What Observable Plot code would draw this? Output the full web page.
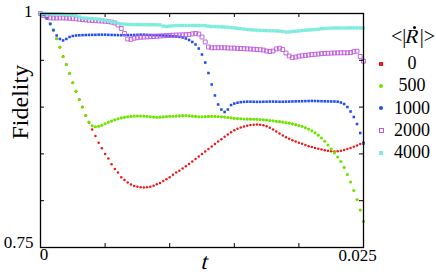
<!DOCTYPE html>
<html>
<head>
<meta charset="utf-8">
<script src="https://cdn.jsdelivr.net/npm/d3@7"></script>
<script src="https://cdn.jsdelivr.net/npm/@observablehq/plot@0.6"></script>
<style>
  html, body { margin: 0; padding: 0; background: #fff; }
  #wrap { position: relative; width: 436px; height: 280px; }
  #legend { position: absolute; left: 0; top: 0; width: 436px; height: 280px; pointer-events: none;
            font-family: "Liberation Serif", serif; color: #000; }
  #legend .lab { position: absolute; width: 50px; text-align: center; font-size: 18px; line-height: 20px; }
  #legend .ttl { position: absolute; width: 64px; text-align: center; font-size: 20px; line-height: 24px; white-space: nowrap; }
  #legend .slant { display: inline-block; transform: skewX(-14deg); }
  #legend .mk { position: absolute; box-sizing: border-box; }
</style>
</head>
<body>
<div id="wrap">
  <div id="chart"></div>
  <div id="legend"></div>
</div>
<script>
// sampling grid (t), 101 samples over [0, 0.025]
const tValues = d3.range(101).map(i => +(i * 0.00025).toFixed(5));

// series keys (<|R-dot|>) and fidelity values
const seriesKeys = ["0", "500", "1000", "2000", "4000"];

const fid0 = [1.000,0.999,0.995,0.989,0.982,0.973,0.964,0.954,0.9455,0.936,0.926,0.917,0.908,0.900,0.891,
  0.8835,0.876,0.869,0.862,0.856,0.850,0.845,0.839,0.834,0.830,0.825,0.822,0.8195,0.8173,0.8157,
  0.8148,0.8143,0.814,0.8144,0.815,0.816,0.8176,0.819,0.821,0.823,0.825,0.8277,0.830,0.832,0.8344,
  0.8367,0.8392,0.8419,0.8446,0.8472,0.8499,0.8526,0.8552,0.8579,0.8606,0.8632,0.8657,0.8683,0.8707,0.8732,
  0.8752,0.8769,0.8782,0.8793,0.8801,0.8808,0.8812,0.8814,0.8812,0.8806,0.8795,0.878,0.8761,0.8739,0.8718,
  0.8697,0.8678,0.8662,0.8647,0.8632,0.862,0.8608,0.8595,0.8583,0.8573,0.8564,0.8556,0.8547,0.854,0.8533,
  0.8528,0.8526,0.8528,0.8533,0.8542,0.8552,0.8563,0.8576,0.859,0.8606,0.8624];

const fid500 = [1.000,0.999,0.995,0.989,0.982,0.973,0.964,0.954,0.9455,0.936,0.926,0.917,0.908,0.900,0.891,
  0.884,0.880,0.879,0.8795,0.8806,0.8822,0.8838,0.8851,0.8864,0.8875,0.8884,0.8891,0.8896,0.890,0.8903,
  0.8905,0.8905,0.8904,0.8901,0.8896,0.8893,0.8891,0.8892,0.8895,0.8899,0.8901,0.8902,0.8904,0.8906,0.8908,
  0.8908,0.8906,0.8903,0.890,0.8897,0.8897,0.8899,0.890,0.8901,0.890,0.8899,0.8896,0.8893,0.8889,0.8885,
  0.888,0.8877,0.8875,0.8873,0.8872,0.8871,0.887,0.8869,0.8867,0.8864,0.8861,0.8857,0.8853,0.8848,0.8844,
  0.884,0.8834,0.8828,0.8821,0.8812,0.8803,0.8793,0.878,0.8765,0.8747,0.8725,0.87,0.867,0.8635,0.8595,
  0.8552,0.851,0.8467,0.8419,0.8355,0.828,0.82,0.8109,0.8013,0.79,0.7778];

const fid1000 = [1.000,0.9984,0.9947,0.9888,0.9824,0.9765,0.9728,0.9712,0.9728,0.9749,0.976,0.9765,0.9767,0.9769,0.977,
  0.9771,0.9772,0.9772,0.9774,0.9774,0.9774,0.9772,0.9771,0.977,0.9769,0.9768,0.9768,0.9769,0.977,0.9771,
  0.9772,0.9774,0.9774,0.9772,0.9771,0.977,0.9769,0.9767,0.9765,0.9763,0.9761,0.9757,0.9754,0.975,0.9744,
  0.9733,0.9717,0.9696,0.9669,0.9626,0.9562,0.9476,0.9364,0.9241,0.9124,0.9028,0.8974,0.8948,0.8974,0.9022,
  0.9038,0.9047,0.9053,0.9056,0.9058,0.9058,0.9057,0.9056,0.9056,0.9057,0.9058,0.9059,0.9059,0.9058,0.9057,
  0.9057,0.9058,0.9059,0.906,0.9061,0.9062,0.9063,0.9064,0.9065,0.9066,0.9065,0.9064,0.9063,0.9062,0.9061,
  0.906,0.906,0.9058,0.9049,0.9033,0.9001,0.8953,0.8894,0.8819,0.8723,0.8611];

const fid2000 = [1.000,0.9979,0.9963,0.9954,0.9952,0.9952,0.9952,0.9952,0.9951,0.9949,0.9947,0.9943,0.9939,0.9935,0.9932,
  0.9928,0.9925,0.9923,0.9921,0.9919,0.9917,0.9913,0.9908,0.9899,0.9877,0.984,0.9786,0.9728,0.9724,0.9736,
  0.9741,0.9746,0.9748,0.975,0.9752,0.9754,0.9757,0.976,0.9762,0.9764,0.9766,0.9768,0.977,0.9771,0.9772,
  0.9774,0.9776,0.9782,0.9787,0.9781,0.9749,0.9696,0.9642,0.9634,0.9634,0.9634,0.9634,0.9634,0.9632,0.9631,
  0.963,0.9628,0.9626,0.9624,0.9622,0.962,0.9618,0.9615,0.9613,0.9609,0.9599,0.9594,0.9599,0.9621,0.9629,
  0.9615,0.9578,0.9546,0.9528,0.9535,0.9544,0.9548,0.9552,0.9557,0.9561,0.9564,0.9567,0.9571,0.9573,0.9575,
  0.9577,0.9578,0.9579,0.958,0.958,0.958,0.9583,0.9592,0.9597,0.9541,0.949];

const fid4000 = [1.000,1.000,0.9998,0.9997,0.9996,0.9995,0.9994,0.9991,0.9989,0.9986,0.9983,0.9979,0.9963,0.9952,0.995,
  0.9948,0.9946,0.9943,0.994,0.9934,0.9926,0.9919,0.9911,0.9904,0.9895,0.9889,0.9886,0.9884,0.9882,0.9882,
  0.9881,0.9881,0.988,0.988,0.988,0.988,0.9879,0.9878,0.9866,0.9861,0.9865,0.9869,0.9871,0.9872,0.9872,
  0.9872,0.9872,0.9872,0.9872,0.9872,0.9872,0.987,0.9865,0.9861,0.9859,0.9858,0.9857,0.9856,0.9854,0.985,
  0.9846,0.9842,0.9838,0.9833,0.9829,0.9826,0.9824,0.9822,0.9819,0.9818,0.9817,0.9816,0.9815,0.9814,0.9812,
  0.9808,0.9801,0.9804,0.9808,0.9811,0.9814,0.9817,0.9821,0.9824,0.9826,0.9829,0.9832,0.9837,0.984,0.9842,
  0.9844,0.9845,0.9845,0.9845,0.9845,0.9845,0.9846,0.9846,0.9846,0.9846,0.9844];

// axis ticks and labels
const xTicks = [0, 0.005, 0.01, 0.015, 0.02, 0.025];
const yTicks = [0.75, 0.8, 0.85, 0.9, 0.95, 1];

const colors = ["#f01818", "#6fe400", "#2250ee", "#bf58e0", "#7eecdc"];

const rows = vals => tValues.map((t, i) => ({t, f: vals[i]})).filter(d => d.f != null);

const W = 436, H = 280, mL = 40, mR = 73, mT = 13, mB = 33;
const plotW = W - mL - mR, plotH = H - mT - mB;
const tick = 4;
const FONT = "Liberation Serif";

const chart = Plot.plot({
  width: W, height: H,
  marginLeft: mL, marginRight: mR, marginTop: mT, marginBottom: mB,
  x: {domain: [0, 0.025], axis: null},
  y: {domain: [0.75, 1], axis: null},
  style: {fontFamily: FONT},
  marks: [
    Plot.dot(rows(fid0), {x: "t", y: "f", r: 1.25, fill: colors[0], symbol: "circle"}),
    Plot.dot(rows(fid500), {x: "t", y: "f", r: 1.6, fill: colors[1], symbol: "circle"}),
    Plot.dot(rows(fid1000), {x: "t", y: "f", r: 1.45, fill: colors[2], symbol: "square"}),
    Plot.dot(rows(fid2000), {x: "t", y: "f", r: 2.2, fill: "none", stroke: colors[3], strokeWidth: 0.9, symbol: "square"}),
    Plot.dot(rows(fid4000), {x: "t", y: "f", r: 1.9, fill: colors[4], symbol: "square"}),
    Plot.frame({stroke: "#000", strokeWidth: 1.3}),
    Plot.tickX(xTicks, {x: d => d, insetTop: plotH - tick, stroke: "#000", strokeWidth: 1}),
    Plot.tickX(xTicks, {x: d => d, insetBottom: plotH - tick, stroke: "#000", strokeWidth: 1}),
    Plot.tickY(yTicks, {y: d => d, insetRight: plotW - tick, stroke: "#000", strokeWidth: 1}),
    Plot.tickY(yTicks, {y: d => d, insetLeft: plotW - tick, stroke: "#000", strokeWidth: 1}),
    Plot.text([xTicks[0]], {x: d => d, frameAnchor: "bottom", dy: 12, dx: 3.5, text: d => "0", fontSize: 17, fontFamily: FONT}),
    Plot.text([xTicks[5]], {x: d => d, frameAnchor: "bottom", dy: 13, dx: -6, text: d => "0.025", fontSize: 17, fontFamily: FONT}),
    Plot.text([yTicks[5]], {y: d => d, frameAnchor: "left", dx: -8, dy: -2, textAnchor: "end", text: d => "1", fontSize: 17, fontFamily: FONT}),
    Plot.text([yTicks[0]], {y: d => d, frameAnchor: "left", dx: -7, dy: -5, textAnchor: "end", text: d => "0.75", fontSize: 17, fontFamily: FONT}),
    Plot.text(["Fidelity"], {frameAnchor: "left", dx: -20, dy: 9, rotate: -90, text: d => d, fontSize: 24, fontFamily: FONT}),
    Plot.text(["t"], {frameAnchor: "bottom", dx: 1.5, dy: 21, text: d => d, fontSize: 23, fontFamily: FONT})
  ]
});

document.getElementById("chart").appendChild(chart);

// slant the axis variable "t" with a skew instead of an italic face
d3.select(chart).selectAll("text").filter(function() { return this.textContent === "t"; })
  .each(function() {
    const tr = this.getAttribute("transform") || "";
    this.setAttribute("transform", (tr + " skewX(-14)").trim());
  });

// legend (HTML overlay to the right of the frame)
const legend = d3.select("#legend");
const ttl = legend.append("div").attr("class", "ttl").style("left", "381px").style("top", "24px");
ttl.append("span").text("<|");
ttl.append("span").attr("class", "slant").text("R");
ttl.append("span").text("|>");
legend.append("div").attr("class", "mk")
  .style("left", "413px").style("top", "26px").style("width", "3px").style("height", "3px")
  .style("border-radius", "50%").style("background", "#000");

seriesKeys.forEach((k, i) => {
  const cy = 63.5 + i * 22.3;
  const mk = legend.append("div").attr("class", "mk")
    .style("left", "379px").style("top", `${cy - 2}px`).style("width", "4px").style("height", "4px");
  if (i === 3) mk.style("border", `1px solid ${colors[i]}`).style("width", "5px").style("height", "5px")
    .style("left", "378.5px").style("top", `${cy - 2.5}px`);
  else mk.style("background", colors[i]);
  if (i === 1 || i === 2) mk.style("border-radius", "50%");
  legend.append("div").attr("class", "lab")
    .style("left", "387px").style("top", `${cy - 10.5}px`).text(k);
});
</script>
</body>
</html>
